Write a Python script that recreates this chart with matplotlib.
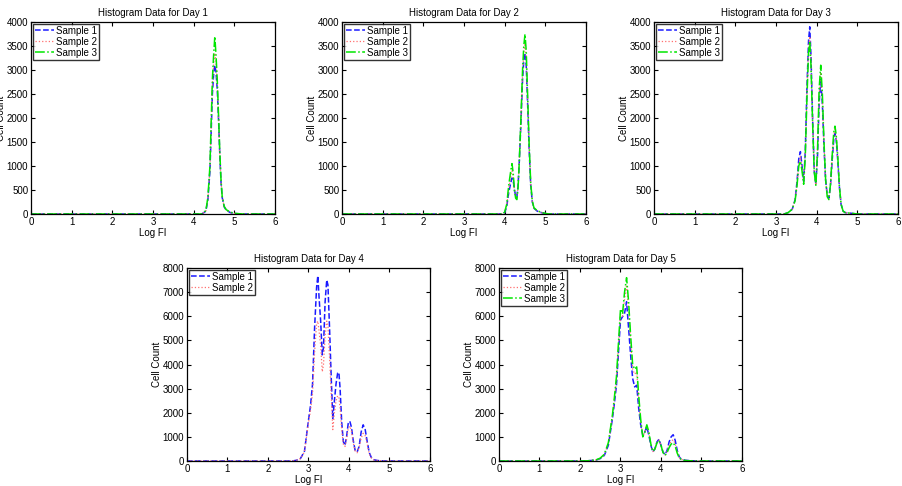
import numpy as np
import matplotlib.pyplot as plt

# histogram data (Log FI vs cell count)
d1_x = [0, 4.2, 4.3, 4.35, 4.4, 4.43, 4.46, 4.49, 4.52, 4.55, 4.58, 4.61, 4.64, 4.67, 4.7, 4.75, 4.8, 4.9, 5.0, 5.2, 6]
d1_s1 = [0, 0, 60, 300, 900, 1700, 2500, 2900, 3100, 2950, 2600, 2000, 1300, 700, 350, 150, 80, 30, 10, 0, 0]
d1_s2 = [0, 0, 65, 320, 950, 1800, 2650, 3100, 3350, 3150, 2700, 2050, 1300, 720, 360, 155, 85, 35, 12, 0, 0]
d1_s3 = [0, 0, 70, 350, 1000, 1900, 2800, 3300, 3700, 3300, 2800, 2100, 1350, 750, 380, 160, 90, 40, 15, 0, 0]

d2_x = [0, 3.95, 4.0, 4.05, 4.1, 4.15, 4.18, 4.21, 4.24, 4.27, 4.3, 4.33, 4.36, 4.4, 4.44, 4.47, 4.5, 4.53,
        4.56, 4.6, 4.64, 4.68, 4.72, 4.8, 4.9, 5.0, 5.1, 6]
d2_s1 = [0, 0, 30, 150, 450, 650, 750, 700, 500, 380, 350, 600, 1100, 1900, 2800, 3200, 3350, 3100,
         2400, 1400, 600, 250, 120, 60, 30, 10, 0, 0]
d2_s2 = [0, 0, 35, 180, 520, 780, 900, 780, 500, 350, 320, 580, 1100, 1950, 2900, 3350, 3550, 3250,
         2500, 1450, 620, 260, 125, 65, 32, 11, 0, 0]
d2_s3 = [0, 0, 40, 200, 600, 900, 1050, 850, 500, 330, 300, 550, 1100, 2000, 3000, 3500, 3750, 3400,
         2600, 1500, 650, 270, 130, 70, 35, 12, 0, 0]

d3_x = [0, 3.2, 3.3, 3.4, 3.47, 3.52, 3.56, 3.6, 3.64, 3.68, 3.72, 3.76, 3.8, 3.83, 3.86, 3.9, 3.94, 3.98,
        4.02, 4.06, 4.1, 4.14, 4.18, 4.22, 4.26, 4.3, 4.34, 4.38, 4.42, 4.45, 4.48, 4.52, 4.56, 4.6, 4.65,
        4.7, 4.8, 4.9, 5.0, 6]
d3_s1 = [0, 0, 30, 100, 300, 700, 1150, 1300, 1000, 680, 1300, 2600, 3600, 3900, 3300, 2000, 900, 620,
         1200, 2300, 2800, 2300, 1400, 700, 400, 330, 600, 1100, 1550, 1680, 1550, 1100, 550, 200, 60,
         30, 20, 10, 0, 0]
d3_s2 = [0, 0, 30, 100, 290, 650, 1050, 1200, 950, 650, 1250, 2500, 3450, 3700, 3200, 1950, 900, 600,
         1250, 2450, 2950, 2400, 1450, 700, 380, 310, 600, 1150, 1650, 1760, 1600, 1150, 560, 200, 60,
         30, 20, 10, 0, 0]
d3_s3 = [0, 0, 30, 100, 280, 620, 1000, 1100, 900, 620, 1200, 2400, 3350, 3600, 3100, 1900, 880, 600,
         1300, 2600, 3100, 2500, 1500, 720, 360, 300, 620, 1200, 1700, 1830, 1650, 1180, 570, 210, 60,
         30, 20, 10, 0, 0]

d4_x = [0, 2.6, 2.7, 2.8, 2.9, 3.0, 3.05, 3.1, 3.15, 3.2, 3.23, 3.26, 3.3, 3.34, 3.37, 3.41, 3.45, 3.48,
        3.52, 3.56, 3.6, 3.64, 3.68, 3.72, 3.75, 3.78, 3.82, 3.86, 3.9, 3.94, 3.98, 4.02, 4.06, 4.1, 4.15,
        4.2, 4.25, 4.3, 4.35, 4.4, 4.45, 4.5, 4.55, 4.6, 4.7, 4.8, 4.9, 6]
d4_s1 = [0, 0, 30, 100, 400, 1700, 2300, 3200, 5500, 7200, 7680, 6800, 5800, 4400, 4700, 6600, 7500, 7300,
         5500, 3500, 1760, 2500, 3200, 3650, 3670, 3000, 1600, 800, 650, 1000, 1550, 1650, 1400, 900, 450,
         370, 600, 1200, 1500, 1300, 800, 350, 150, 60, 20, 10, 0, 0]
d4_s2 = [0, 0, 30, 100, 380, 1600, 2100, 2800, 4500, 5700, 5800, 5400, 4800, 3700, 4000, 5200, 5800, 5600,
         4300, 2800, 1300, 2000, 2500, 2700, 2650, 2200, 1300, 700, 600, 900, 1350, 1450, 1250, 800, 420,
         340, 550, 950, 1150, 1050, 700, 300, 130, 50, 20, 10, 0, 0]

d5_x = [0, 2.0, 2.2, 2.4, 2.5, 2.6, 2.7, 2.8, 2.85, 2.9, 2.95, 3.0, 3.05, 3.1, 3.15, 3.2, 3.25, 3.3, 3.35,
        3.4, 3.45, 3.5, 3.55, 3.6, 3.65, 3.7, 3.75, 3.8, 3.85, 3.9, 3.95, 4.0, 4.05, 4.1, 4.15, 4.2, 4.25,
        4.3, 4.35, 4.4, 4.45, 4.5, 4.6, 4.7, 4.8, 4.9, 6]
d5_s1 = [0, 0, 10, 40, 100, 230, 650, 1750, 2400, 3140, 4500, 5840, 5980, 6120, 6600, 5500, 4390, 3420, 3070,
         3140, 2170, 1480, 1070, 1200, 1410, 1070, 650, 370, 510, 790, 900, 650, 370, 260, 440, 790, 1000,
         1090, 860, 440, 170, 80, 30, 15, 8, 0, 0]
d5_s2 = [0, 0, 10, 45, 110, 260, 720, 1850, 2550, 3350, 4750, 6100, 6000, 6700, 7300, 6300, 5000, 3800, 3600,
         3700, 2500, 1600, 1030, 1180, 1480, 1150, 680, 390, 500, 760, 870, 650, 360, 240, 390, 640, 820,
         880, 720, 380, 150, 70, 25, 12, 6, 0, 0]
d5_s3 = [0, 0, 10, 50, 120, 280, 760, 1900, 2650, 3500, 4900, 6300, 6100, 7000, 7600, 6600, 5200, 4000, 3800,
         3900, 2700, 1700, 1000, 1200, 1500, 1200, 700, 400, 500, 750, 850, 650, 350, 230, 350, 550, 700,
         760, 620, 330, 130, 60, 20, 10, 5, 0, 0]

titles = ['Histogram Data for Day 1', 'Histogram Data for Day 2', 'Histogram Data for Day 3',
          'Histogram Data for Day 4', 'Histogram Data for Day 5']
days = [
    (d1_x, [d1_s1, d1_s2, d1_s3], 4000),
    (d2_x, [d2_s1, d2_s2, d2_s3], 4000),
    (d3_x, [d3_s1, d3_s2, d3_s3], 4000),
    (d4_x, [d4_s1, d4_s2], 8000),
    (d5_x, [d5_s1, d5_s2, d5_s3], 8000),
]
sample_names = ['Sample 1', 'Sample 2', 'Sample 3']
# colour, linestyle, width
styles = [('#1a1aff', '--', 1.1), ('#ff6f6f', ':', 0.9), ('#00e600', '-.', 1.1)]

W, H = 903, 486
# axes boxes in pixels: left, top, width, height
boxes = [(31, 22, 244, 192), (342, 22, 244, 192), (654, 22, 244, 192),
         (187, 268, 243, 193), (499, 268, 243, 193)]

fig = plt.figure(figsize=(W / 100, H / 100), dpi=100)
plt.rcParams['font.family'] = ['Liberation Sans', 'DejaVu Sans']

for (x, series, ymax), title, (l, t, w, h) in zip(days, titles, boxes):
    ax = fig.add_axes([l / W, (H - t - h) / H, w / W, h / H])
    for s, name, (c, ls, lw) in zip(series, sample_names, styles):
        ax.plot(x, s, color=c, linestyle=ls, linewidth=lw, label=name)
    ax.set_xlim(0, 6)
    ax.set_ylim(0, ymax)
    ax.set_xticks(range(7))
    ax.set_yticks(np.arange(0, ymax + 1, ymax // 8))
    ax.tick_params(direction='in', top=True, right=True, labelsize=7, length=3, pad=2)
    ax.set_title(title, fontsize=7, pad=4)
    ax.set_xlabel('Log FI', fontsize=7, labelpad=1)
    ax.set_ylabel('Cell Count', fontsize=7, labelpad=0.5)
    for sp in ax.spines.values():
        sp.set_linewidth(0.9)
    leg = ax.legend(loc='upper left', fontsize=7, fancybox=False, borderaxespad=0.2,
                    handlelength=2.0, handletextpad=0.2, borderpad=0.2, labelspacing=0.1)
    leg.get_frame().set_edgecolor('black')
    leg.get_frame().set_linewidth(1.0)

fig.savefig('out.png', dpi=100)
